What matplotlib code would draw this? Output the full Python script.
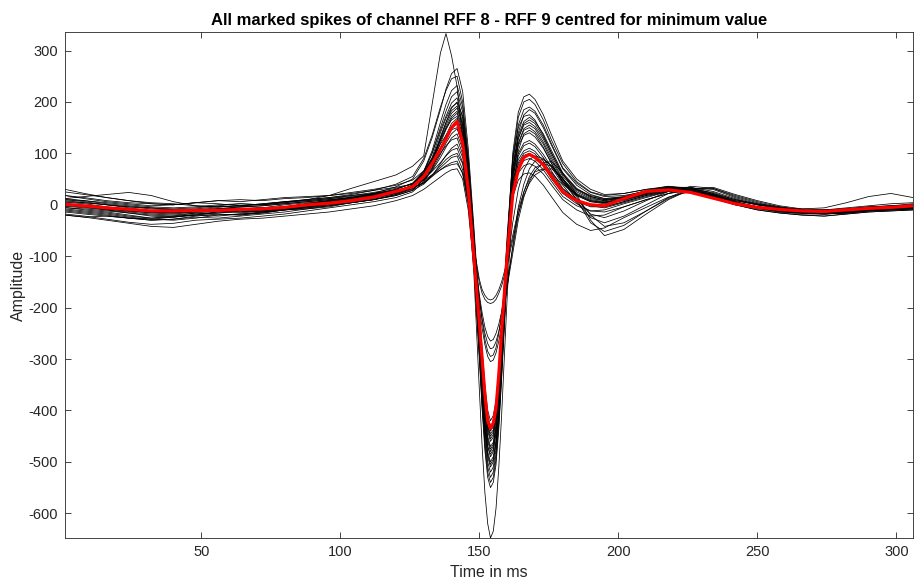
import matplotlib
matplotlib.use("Agg")
import matplotlib.pyplot as plt
import numpy as np

plt.rcParams['font.family'] = ['Liberation Sans', 'DejaVu Sans']
plt.rcParams['axes.unicode_minus'] = False

# time grid (ms)
t_ms = [1, 8, 16, 24, 32, 40, 48, 56, 64, 72, 80, 88, 96, 104, 112, 120, 126,
        130, 133, 136, 138, 140, 142, 144, 146,
        148, 150, 151, 152, 153, 154, 155, 156, 157, 158, 160, 162,
        164, 166, 168, 170, 173, 176, 180, 185, 190, 195,
        202, 210, 218, 226, 234, 242, 250, 258, 266, 274, 282, 290, 298, 306]

# individual marked spikes (black)
s01 = [12, 8, 2, -2, -6, -8, -6, -2, 2, 0, 4, 10, 18, 32, 45, 58, 75,
       95, 195, 295, 333, 290, 230, 130, 20,
       -80, -180, -225, -262, -285, -295, -292, -278, -250, -210, -120, -35,
       30, 68, 88, 95, 90, 75, 45, 20, 8, 5,
       14, 26, 34, 32, 22, 10, 2, -4, -10, -14, -14, -10, -8, -6]
s02 = [-5, -10, -14, -20, -26, -24, -18, -14, -16, -12, -6, 0, 6, 12, 18, 26, 36,
       50, 65, 82, 95, 106, 110, 82, 20,
       -80, -145, -165, -176, -183, -185, -183, -176, -165, -150, -110, -60,
       -10, 25, 50, 64, 70, 62, 38, 5, -25, -35,
       -22, 0, 22, 36, 32, 16, 4, -6, -12, -16, -14, -10, -8, -6]
s03 = [10, 6, 0, -6, -12, -14, -12, -8, -4, -2, 2, 6, 10, 14, 20, 26, 32,
       44, 58, 72, 82, 92, 95, 68, 10,
       -85, -152, -172, -184, -190, -192, -190, -184, -172, -158, -118, -68,
       -18, 18, 42, 58, 68, 70, 52, 15, -20, -42,
       -35, -12, 12, 30, 32, 18, 6, -4, -10, -12, -10, -6, -4, -2]
s04 = [-10, -14, -18, -24, -28, -30, -26, -20, -18, -16, -10, -4, 2, 8, 14, 22, 32,
       55, 75, 100, 115, 126, 130, 98, 30,
       -80, -175, -210, -238, -256, -265, -262, -250, -232, -208, -150, -85,
       -20, 25, 55, 72, 80, 75, 50, 10, -35, -52,
       -40, -12, 14, 32, 30, 14, 2, -8, -14, -18, -16, -12, -10, -8]
s05 = [30, 22, 14, 8, 4, 2, -2, -4, -2, 2, 6, 10, 14, 18, 22, 28, 34,
       42, 55, 68, 76, 82, 85, 60, 0,
       -95, -185, -222, -250, -270, -280, -278, -266, -246, -220, -160, -95,
       -30, 15, 45, 66, 82, 84, 62, 20, -30, -60,
       -48, -18, 10, 30, 34, 20, 8, -2, -8, -6, 4, 16, 22, 14]
s06 = [0, -4, -10, -16, -22, -24, -20, -14, -10, -8, -4, 2, 8, 14, 22, 30, 42,
       62, 88, 118, 135, 146, 150, 115, 40,
       -90, -200, -240, -272, -295, -305, -302, -288, -265, -235, -160, -80,
       -5, 40, 70, 85, 88, 76, 45, 10, -18, -25,
       -12, 8, 26, 34, 26, 12, 0, -8, -14, -16, -14, -10, -8, -4]
s07 = [5, 2, -4, -8, -14, -16, -12, -8, -10, -12, -6, 2, 6, 12, 22, 35, 50,
       85, 130, 185, 225, 255, 265, 220, 110,
       -40, -200, -280, -350, -400, -420, -410, -380, -320, -240, -60, 90,
       150, 172, 175, 165, 135, 100, 60, 30, 18, 12,
       15, 25, 32, 30, 20, 8, 0, -6, -10, -14, -12, -8, -6, -3]
s08 = [18, 12, 6, 2, -2, 0, 4, 2, -2, 0, 6, 10, 14, 20, 28, 40, 55,
       90, 135, 190, 222, 245, 250, 200, 95,
       -50, -210, -290, -360, -410, -430, -422, -390, -330, -250, -70, 90,
       170, 200, 205, 195, 165, 125, 80, 45, 25, 18,
       22, 30, 36, 32, 20, 6, -4, -10, -14, -15, -12, -8, -4, 0]
s09 = [-8, -12, -16, -22, -26, -22, -16, -18, -20, -14, -8, -4, 2, 8, 14, 24, 38,
       65, 105, 160, 195, 222, 232, 190, 85,
       -60, -220, -300, -370, -420, -440, -432, -400, -340, -260, -80, 60,
       115, 135, 140, 132, 110, 80, 45, 20, 8, 4,
       10, 22, 30, 28, 16, 2, -6, -12, -16, -18, -14, -10, -8, -6]
s10 = [0, -4, -8, -12, -15, -14, -10, -12, -14, -10, -4, 0, 4, 10, 16, 26, 38,
       62, 100, 150, 182, 210, 220, 180, 80,
       -65, -230, -310, -380, -430, -450, -442, -410, -350, -265, -85, 70,
       140, 175, 185, 178, 150, 115, 70, 38, 20, 12,
       16, 28, 36, 30, 16, 2, -8, -14, -16, -16, -12, -8, -4, -2]
s11 = [8, 4, 0, -4, -8, -10, -8, -4, -2, -6, -4, 2, 8, 14, 20, 30, 42,
       65, 100, 145, 172, 198, 208, 168, 72,
       -70, -235, -315, -385, -435, -455, -447, -415, -355, -270, -90, 55,
       100, 120, 125, 118, 98, 72, 40, 18, 6, 2,
       8, 20, 30, 28, 16, 4, -4, -8, -12, -12, -10, -8, -4, 0]
s12 = [-20, -24, -22, -26, -30, -28, -22, -18, -20, -16, -10, -8, -4, 4, 10, 18, 28,
       50, 85, 130, 160, 188, 200, 172, 80,
       -70, -240, -320, -390, -440, -460, -452, -420, -360, -275, -95, 45,
       88, 105, 110, 104, 85, 60, 30, 10, -2, -6,
       4, 16, 26, 26, 14, 0, -10, -16, -20, -22, -18, -14, -12, -10]
s13 = [3, -2, -8, -12, -16, -18, -14, -10, -6, -8, -4, 2, 8, 14, 18, 26, 38,
       60, 92, 140, 168, 190, 198, 160, 60,
       -80, -250, -330, -400, -450, -470, -462, -428, -362, -270, -80, 100,
       180, 210, 215, 205, 175, 135, 85, 50, 30, 20,
       22, 30, 34, 28, 16, 4, -4, -10, -12, -12, -10, -6, -4, -2]
s14 = [12, 16, 20, 24, 18, 6, -2, -4, -2, 2, 6, 8, 12, 18, 24, 32, 40,
       60, 88, 132, 160, 183, 192, 155, 58,
       -82, -255, -335, -405, -455, -475, -466, -432, -368, -280, -95, 70,
       130, 155, 160, 152, 128, 95, 55, 28, 14, 8,
       14, 26, 34, 34, 22, 8, 0, -6, -10, -10, -8, -4, -2, 2]
s15 = [-12, -16, -20, -26, -30, -28, -24, -26, -22, -18, -14, -8, -2, 4, 10, 20, 32,
       55, 85, 128, 155, 178, 188, 155, 62,
       -85, -260, -340, -410, -460, -480, -470, -436, -372, -285, -105, 35,
       78, 96, 100, 94, 75, 50, 22, 2, -12, -14,
       -4, 10, 22, 28, 20, 6, -6, -12, -16, -18, -16, -12, -10, -8]
s16 = [6, 4, 0, -4, -6, -10, -12, -8, -4, -2, 2, 6, 10, 14, 20, 28, 36,
       58, 85, 125, 150, 172, 182, 148, 58,
       -88, -265, -350, -420, -470, -490, -480, -445, -380, -290, -100, 70,
       135, 162, 170, 162, 138, 105, 62, 32, 16, 10,
       14, 24, 32, 30, 18, 4, -6, -12, -14, -14, -10, -6, -4, -2]
s17 = [-3, -6, -10, -14, -18, -20, -16, -12, -14, -12, -8, -4, 0, 6, 12, 22, 34,
       54, 80, 120, 146, 168, 178, 142, 52,
       -90, -270, -360, -430, -480, -500, -490, -458, -400, -310, -120, 45,
       118, 145, 150, 142, 118, 85, 48, 22, 10, 6,
       10, 22, 30, 30, 18, 4, -6, -12, -16, -16, -14, -10, -8, -6]
s18 = [18, 14, 8, 4, 2, 0, 4, 8, 10, 8, 12, 14, 18, 24, 30, 38, 48,
       66, 90, 125, 148, 165, 172, 135, 45,
       -95, -275, -365, -435, -485, -505, -495, -462, -400, -310, -110, 80,
       155, 185, 190, 182, 155, 118, 72, 42, 24, 16,
       18, 26, 32, 26, 14, 2, -6, -10, -14, -12, -10, -6, -2, 0]
s19 = [-18, -22, -28, -34, -38, -36, -30, -28, -26, -22, -18, -12, -6, 0, 6, 14, 25,
       45, 70, 108, 135, 158, 168, 135, 48,
       -95, -275, -365, -440, -490, -510, -500, -465, -405, -315, -125, 40,
       95, 115, 120, 113, 92, 65, 32, 10, -2, -4,
       6, 18, 26, 26, 14, 0, -10, -16, -20, -22, -18, -14, -12, -10]
s20 = [2, -2, -6, -10, -12, -14, -10, -6, -8, -6, 0, 4, 8, 14, 20, 28, 35,
       50, 72, 105, 128, 148, 158, 125, 40,
       -100, -282, -375, -450, -500, -520, -510, -475, -412, -320, -120, 60,
       128, 158, 165, 158, 132, 100, 58, 30, 16, 10,
       14, 24, 30, 28, 16, 2, -6, -12, -14, -14, -12, -8, -6, -4]
s21 = [-6, -8, -12, -16, -20, -22, -20, -16, -12, -14, -10, -6, -2, 4, 10, 20, 30,
       48, 68, 98, 120, 138, 148, 118, 35,
       -105, -290, -385, -460, -510, -530, -520, -485, -420, -328, -130, 30,
       82, 100, 105, 99, 80, 56, 25, 6, -4, -4,
       6, 18, 28, 28, 18, 4, -6, -12, -16, -16, -14, -10, -8, -6]
s22 = [10, 8, 4, 0, -4, -6, -4, 0, 2, 0, 4, 8, 12, 16, 22, 28, 36,
       48, 66, 92, 112, 130, 138, 108, 30,
       -110, -295, -392, -470, -520, -540, -530, -495, -428, -335, -125, 55,
       120, 148, 155, 148, 122, 90, 50, 25, 12, 8,
       14, 24, 30, 24, 12, 0, -6, -10, -12, -10, -8, -4, -2, -2]
s23 = [-14, -18, -22, -26, -28, -24, -20, -22, -18, -14, -10, -6, 0, 4, 10, 18, 28,
       40, 56, 80, 96, 110, 118, 92, 20,
       -115, -300, -398, -478, -530, -550, -540, -505, -436, -340, -135, 25,
       70, 86, 90, 85, 68, 45, 16, -2, -12, -10,
       2, 14, 26, 28, 18, 4, -6, -14, -18, -18, -16, -12, -10, -8]
s24 = [-2, -4, -8, -12, -14, -16, -14, -10, -8, -10, -6, -2, 4, 10, 16, 24, 32,
       42, 58, 76, 88, 96, 100, 80, 10,
       -130, -360, -470, -560, -620, -648, -635, -590, -510, -410, -180, 20,
       105, 138, 145, 138, 112, 80, 42, 18, 6, 4,
       10, 20, 28, 26, 14, 2, -6, -12, -14, -14, -12, -8, -6, -4]
s25 = [25, 20, 14, 8, 2, 0, 4, 8, 6, 10, 14, 16, 18, 22, 28, 34, 40,
       48, 58, 68, 74, 78, 80, 62, 5,
       -100, -245, -320, -385, -430, -445, -438, -408, -350, -270, -100, 30,
       62, 76, 80, 75, 60, 38, 10, -10, -22, -20,
       -4, 10, 22, 30, 24, 10, 0, -6, -8, -10, -6, -2, 2, 4]
s26 = [-20, -24, -30, -36, -42, -44, -38, -32, -28, -26, -22, -18, -14, -8, -2, 8, 18,
       30, 42, 54, 62, 68, 70, 50, -10,
       -120, -275, -355, -425, -470, -485, -476, -442, -380, -290, -110, 15,
       48, 60, 62, 56, 38, 15, -15, -38, -50, -45,
       -25, -5, 15, 26, 20, 6, -4, -10, -14, -16, -14, -10, -8, -6]

spikes = [s01, s02, s03, s04, s05, s06, s07, s08, s09, s10, s11, s12, s13,
          s14, s15, s16, s17, s18, s19, s20, s21, s22, s23, s24, s25, s26]

# mean of the marked spikes (red)
mean_spike = [1, -2, -6, -9, -12, -12, -11, -11, -9, -8, -5, 0, 3, 8, 15, 26, 35,
              55, 80, 108, 128, 150, 162, 120, 30,
              -100, -230, -300, -370, -420, -435, -425, -395, -330, -245, -100, 20,
              68, 92, 98, 92, 78, 55, 25, 8, 0, -2,
              12, 26, 29, 24, 13, 2, -5, -9, -12, -13, -10, -7, -5, -2]

title = "All marked spikes of channel RFF 8 - RFF 9 centred for minimum value"
x_ticks = [50, 100, 150, 200, 250, 300]
y_ticks = [-600, -500, -400, -300, -200, -100, 0, 100, 200, 300]

for s in spikes + [mean_spike]:
    assert len(s) == len(t_ms)

fig = plt.figure(figsize=(9.14, 5.86), dpi=100)
ax = fig.add_axes([0.0711, 0.0819, 0.928, 0.8635])

for s in spikes:
    ax.plot(t_ms, s, color='black', lw=0.55, solid_joinstyle='round')
ax.plot(t_ms, mean_spike, color='red', lw=2.3, solid_joinstyle='round')

all_vals = np.array(spikes + [mean_spike])
ax.set_xlim(t_ms[0], t_ms[-1])
ax.set_ylim(all_vals.min(), all_vals.max() + 3)

ax.set_xticks(x_ticks)
ax.set_yticks(y_ticks)
gray = '#262626'
ax.tick_params(direction='in', length=4, width=0.6, colors=gray, labelsize=10.5,
               top=True, right=True, labelcolor=gray, pad=5)
for sp in ax.spines.values():
    sp.set_color(gray)
    sp.set_linewidth(0.6)

ax.set_title(title, fontsize=12, fontweight='bold', pad=5)
ax.set_xlabel("Time in ms", fontsize=11.5, color=gray, labelpad=4)
ax.set_ylabel("Amplitude", fontsize=11.5, color=gray, labelpad=2)

fig.savefig("out.png", dpi=100)
